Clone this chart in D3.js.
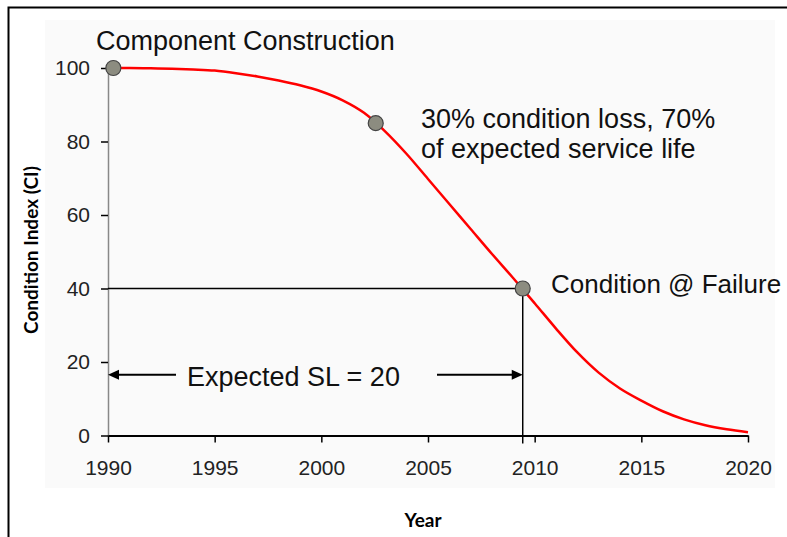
<!DOCTYPE html>
<html>
<head>
<meta charset="utf-8">
<script src="https://cdn.jsdelivr.net/npm/d3@7"></script>
<style>
  body { margin: 0; background: #fff; }
  svg { display: block; }
  .tick text { font-family: "Liberation Sans", Arial, sans-serif; font-size: 21px; fill: #222; }
  .note { font-family: "Liberation Sans", Arial, sans-serif; font-size: 27px; fill: #111; }
  .axis-title { font-family: "Liberation Sans Narrow", Lato, sans-serif; font-weight: bold; font-size: 19px; fill: #000; }
</style>
</head>
<body>
<div id="chart"></div>
<script>
// condition curve
const years = [1990, 1991, 1992, 1993, 1994, 1995, 1996, 1997, 1998, 1999, 2000,
  2001, 2002, 2003, 2004, 2005, 2006, 2007, 2008, 2009, 2010,
  2011, 2012, 2013, 2014, 2015, 2016, 2017, 2018, 2019, 2020];
const condition = [100, 100, 99.9, 99.8, 99.6, 99.3, 98.6, 97.7, 96.6, 95.3, 93.6,
  91.2, 87.8, 82.7, 76.6, 69.8, 63, 56.2, 49.4, 42.8, 36,
  29.1, 22.6, 17.1, 12.8, 9.5, 6.6, 4.4, 2.8, 1.7, 0.9];

// marked points
const pointYears = [1990.25, 2002.55, 2009.44];
const pointCI = [100, 85, 40];

const yearTicks = [1990, 1995, 2000, 2005, 2010, 2015, 2020];
const ciTicks = [0, 20, 40, 60, 80, 100];

const failureYear = 2009.44;
const failureCI = 40;
const arrowCI = 16.5;

const width = 787;
const height = 537;

const svg = d3.select('#chart').append('svg')
  .attr('width', width)
  .attr('height', height);

// faint plot background + frame
svg.append('rect')
  .attr('x', 45).attr('y', 20)
  .attr('width', 730).attr('height', 468)
  .attr('fill', '#fafafa');

svg.append('path')
  .attr('d', `M8.5,${height} V7.5 H${width}`)
  .attr('fill', 'none')
  .attr('stroke', '#000')
  .attr('stroke-width', 2);

const x = d3.scaleLinear().domain([1990, 2020]).range([108, 748]);
const y = d3.scaleLinear().domain([0, 100]).range([435.5, 68]);

// axes
const yAxis = svg.append('g')
  .attr('transform', `translate(${x(1990)},0)`)
  .call(d3.axisLeft(y).tickValues(ciTicks).tickSize(7).tickSizeOuter(0).tickPadding(11));
yAxis.select('.domain').attr('stroke', '#888').attr('stroke-width', 1.5);
yAxis.selectAll('.tick line').attr('stroke', '#000').attr('stroke-width', 1.5);

const xAxis = svg.append('g')
  .attr('transform', `translate(0,${y(0)})`)
  .call(d3.axisBottom(x).tickValues(yearTicks).tickFormat(d3.format('d'))
    .tickSize(7).tickSizeOuter(0).tickPadding(18));
xAxis.select('.domain').attr('stroke', '#000').attr('stroke-width', 2);
xAxis.selectAll('.tick line').attr('stroke', '#000').attr('stroke-width', 1.5);

// failure guide lines
svg.append('line')
  .attr('x1', x(1990)).attr('x2', x(failureYear))
  .attr('y1', y(failureCI)).attr('y2', y(failureCI))
  .attr('stroke', '#000').attr('stroke-width', 1.5);
svg.append('line')
  .attr('x1', x(failureYear)).attr('x2', x(failureYear))
  .attr('y1', y(failureCI)).attr('y2', y(0) + 8)
  .attr('stroke', '#000').attr('stroke-width', 1.5);

// condition curve
const line = d3.line()
  .x((d, i) => x(years[i]))
  .y(d => y(d))
  .curve(d3.curveMonotoneX);

svg.append('path')
  .datum(condition)
  .attr('d', line)
  .attr('fill', 'none')
  .attr('stroke', '#ff0000')
  .attr('stroke-width', 2.5);

// service life arrows
const ay = y(arrowCI);
function arrow(fromX, tipX) {
  const dir = tipX > fromX ? 1 : -1;
  svg.append('line')
    .attr('x1', fromX).attr('x2', tipX - dir * 8)
    .attr('y1', ay).attr('y2', ay)
    .attr('stroke', '#000').attr('stroke-width', 2);
  svg.append('path')
    .attr('d', `M${tipX},${ay} L${tipX - dir * 11},${ay - 5} L${tipX - dir * 11},${ay + 5} Z`)
    .attr('fill', '#000');
}
arrow(176, x(1990));
arrow(437, x(failureYear));

// marked points
svg.selectAll('.pt')
  .data(pointCI)
  .enter().append('circle')
  .attr('class', 'pt')
  .attr('cx', (d, i) => x(pointYears[i]))
  .attr('cy', d => y(d))
  .attr('r', 7.5)
  .attr('fill', '#8c8c80')
  .attr('stroke', '#444')
  .attr('stroke-width', 1.2);

// notes
svg.append('text').attr('class', 'note')
  .attr('x', 96).attr('y', 50)
  .text('Component Construction');
svg.append('text').attr('class', 'note')
  .attr('x', 421).attr('y', 128)
  .text('30% condition loss, 70%');
svg.append('text').attr('class', 'note')
  .attr('x', 421).attr('y', 158)
  .text('of expected service life');
svg.append('text').attr('class', 'note')
  .attr('x', 551).attr('y', 293)
  .style('font-size', '26px')
  .text('Condition @ Failure');
svg.append('text').attr('class', 'note')
  .attr('x', 187).attr('y', 386)
  .text('Expected SL = 20');

// axis titles
svg.append('text').attr('class', 'axis-title')
  .attr('transform', 'translate(38,250) rotate(-90)')
  .attr('text-anchor', 'middle')
  .text('Condition Index (CI)');
svg.append('text').attr('class', 'axis-title')
  .attr('x', 423).attr('y', 527)
  .attr('text-anchor', 'middle')
  .text('Year');
</script>
</body>
</html>
